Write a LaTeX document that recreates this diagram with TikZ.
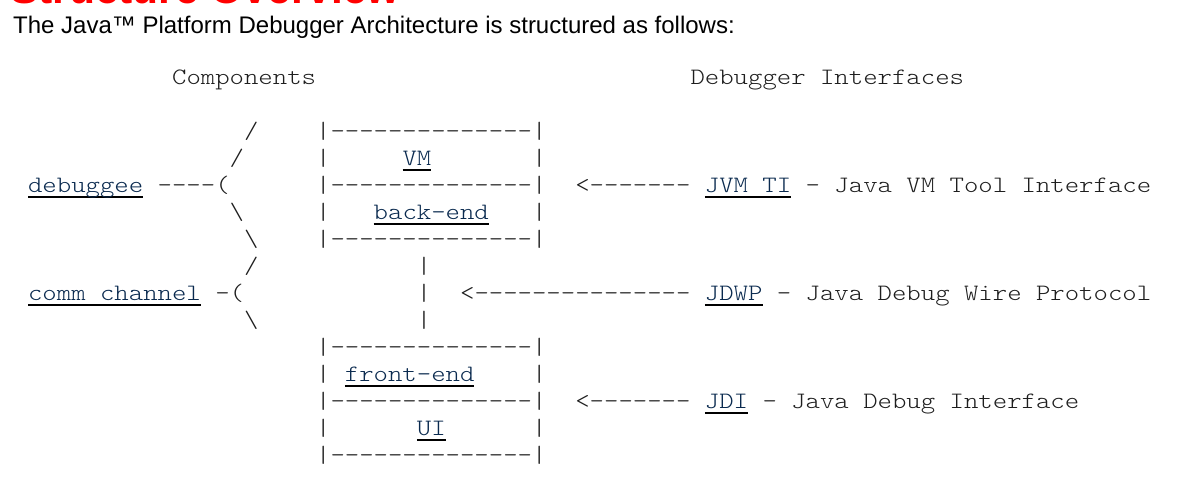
\documentclass[tikz,border=0pt]{standalone}
\usepackage{fontspec}
\setmainfont{Liberation Sans}
\setmonofont{lmmonolt10-regular}[Extension=.otf,FakeStretch=1.167]
\usetikzlibrary{positioning}
\definecolor{jpdaInk}{HTML}{1E1E1E}
\definecolor{jpdaLink}{HTML}{0A2A4F}
\definecolor{jpdaRed}{HTML}{FF0000}
\definecolor{jpdaPaper}{HTML}{FFFFFF}
\newcommand\doclink[1]{\leavevmode\setbox0=\hbox{\color{jpdaLink}#1}\rlap{\color{black}\rule[-6pt]{\wd0}{2pt}}\box0}
\begin{document}
\begin{tikzpicture}[x=1pt,y=-1pt,line cap=round,line join=round]
\useasboundingbox (0,0) rectangle (1190,499);
\clip (0,0) rectangle (1190,499);
\path[fill=jpdaPaper] (0,0) rectangle (1190,499);
\node[anchor=base west,inner sep=0pt,text=jpdaRed,font=\bfseries\fontsize{42.5}{48}\selectfont] (title) at (10,3.5) {Structure Overview};
\node[anchor=base west,inner sep=0pt,text=black,font=\fontsize{24}{28}\selectfont] (intro) at (13,33.5) {The Java™ Platform Debugger Architecture is structured as follows:};
\tikzset{ascii/.style={anchor=base west,inner sep=0pt,text=jpdaInk,font=\ttfamily\fontsize{23.5}{27}\selectfont}}
\begin{scope}[shift={(13.5,84)},x=14.4pt,y=-27pt]
\node[ascii] (comps) at (11,0) {Components};
\node[ascii] (ifaces) at (47,0) {Debugger Interfaces};
\node[ascii] (slashA) at (16,2) {/};
\node[ascii] (vmtop) at (21,2) {|--------------|};
\node[ascii] (slashB) at (15,3) {/};
\node[ascii] (vmleft) at (21,3) {|};
\node[ascii] (vm) at (27,3) {\doclink{VM}};
\node[ascii] (vmright) at (36,3) {|};
\node[ascii] (debuggee) at (1,4) {\doclink{debuggee}};
\node[ascii] (dbgtie) at (10,4) {----(};
\node[ascii] (vmmid) at (21,4) {|--------------|};
\node[ascii] (arrowti) at (39,4) {<-------};
\node[ascii] (jvmti) at (48,4) {\doclink{JVM TI}};
\node[ascii] (jvmtitxt) at (55,4) {- Java VM Tool Interface};
\node[ascii] (backslashA) at (15,5) {\textbackslash};
\node[ascii] (beleft) at (21,5) {|};
\node[ascii] (backend) at (25,5) {\doclink{back-end}};
\node[ascii] (beright) at (36,5) {|};
\node[ascii] (backslashB) at (16,6) {\textbackslash};
\node[ascii] (bebottom) at (21,6) {|--------------|};
\node[ascii] (slashC) at (16,7) {/};
\node[ascii] (wireA) at (28,7) {|};
\node[ascii] (comm) at (1,8) {\doclink{comm channel}};
\node[ascii] (commtie) at (14,8) {-(};
\node[ascii] (wireB) at (28,8) {|};
\node[ascii] (arrowwp) at (31,8) {<---------------};
\node[ascii] (jdwp) at (48,8) {\doclink{JDWP}};
\node[ascii] (jdwptxt) at (53,8) {- Java Debug Wire Protocol};
\node[ascii] (backslashC) at (16,9) {\textbackslash};
\node[ascii] (wireC) at (28,9) {|};
\node[ascii] (fetop) at (21,10) {|--------------|};
\node[ascii] (feleft) at (21,11) {|};
\node[ascii] (frontend) at (23,11) {\doclink{front-end}};
\node[ascii] (feright) at (36,11) {|};
\node[ascii] (femid) at (21,12) {|--------------|};
\node[ascii] (arrowdi) at (39,12) {<-------};
\node[ascii] (jdi) at (48,12) {\doclink{JDI}};
\node[ascii] (jditxt) at (52,12) {- Java Debug Interface};
\node[ascii] (uileft) at (21,13) {|};
\node[ascii] (ui) at (28,13) {\doclink{UI}};
\node[ascii] (uiright) at (36,13) {|};
\node[ascii] (uibottom) at (21,14) {|--------------|};
\end{scope}
\end{tikzpicture}
\end{document}
